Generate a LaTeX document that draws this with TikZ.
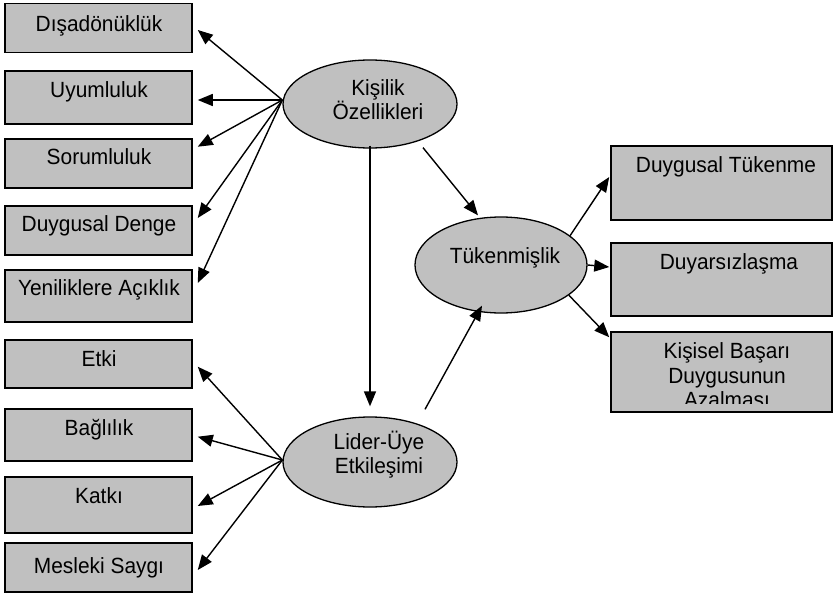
\documentclass[tikz,border=0pt]{standalone}
\usepackage{fontspec}
\setmainfont[FakeStretch=0.95]{Liberation Sans}
\usetikzlibrary{shapes.geometric,arrows.meta,calc}
\definecolor{boxgray}{HTML}{C0C0C0}
\tikzset{
  box/.style={draw=black, line width=1.5pt, fill=boxgray, inner sep=0pt, minimum width=187pt},
  rbox/.style={draw=black, line width=1.5pt, fill=boxgray, inner sep=0pt, minimum width=221pt},
  ell/.style={ellipse, draw=black, line width=1.3pt, fill=boxgray, inner sep=0pt},
  lbl/.style={font=\fontsize{22}{25}\selectfont, anchor=base, inner sep=0pt},
  arr/.style={-{Triangle[length=15pt,width=12pt]}, line width=1.4pt}
}
\begin{document}
\begin{tikzpicture}[x=1pt,y=-1pt]
\useasboundingbox (0,0) rectangle (835,596);
% left boxes
\node[box, minimum height=49pt] (b1) at (98.5,28) {};
\node[box, minimum height=53pt] (b2) at (98.5,97.5) {};
\node[box, minimum height=49pt] (b3) at (98.5,163.5) {};
\node[box, minimum height=49pt] (b4) at (98.5,230.5) {};
\node[box, minimum height=52pt] (b5) at (98.5,296) {};
\node[box, minimum height=48pt] (b6) at (98.5,364) {};
\node[box, minimum height=52pt] (b7) at (98.5,435) {};
\node[box, minimum height=56pt] (b8) at (98.5,505) {};
\node[box, minimum height=49pt] (b9) at (98.5,567.5) {};
\node[lbl] (t1) at (99,32) {Dışadönüklük};
\node[lbl] (t2) at (99,98) {Uyumluluk};
\node[lbl] (t3) at (99,165) {Sorumluluk};
\node[lbl] (t4) at (99,232) {Duygusal Denge};
\node[lbl] (t5) at (99,295) {Yeniliklere Açıklık};
\node[lbl] (t6) at (99,366) {Etki};
\node[lbl] (t7) at (99,435) {Bağlılık};
\node[lbl] (t8) at (99,503) {Katkı};
\node[lbl] (t9) at (99,573) {Mesleki Saygı};
% right boxes
\node[rbox, minimum height=74pt] (dt) at (721.5,183) {};
\node[rbox, minimum height=73pt] (dy) at (721.5,279.5) {};
\node[rbox, minimum height=80pt] (kb) at (721.5,372) {};
\node[lbl] (tdt) at (726,173) {Duygusal Tükenme};
\node[lbl] (tdy) at (729,269) {Duyarsızlaşma};
\begin{scope}
\clip ($(kb.north west)+(1,1)$) rectangle ($(kb.south east)+(-1,-9)$);
\node[lbl] (tkb1) at (727,358) {Kişisel Başarı};
\node[lbl] (tkb2) at (727,383) {Duygusunun};
\node[lbl] (tkb3) at (727,407) {Azalması};
\end{scope}
% ellipses
\node[ell, minimum width=174pt, minimum height=88pt] (kis) at (370,104) {};
\node[ell, minimum width=174pt, minimum height=90pt] (lid) at (370,462) {};
\node[ell, minimum width=172pt, minimum height=96pt] (tuk) at (501,265) {};
\node[lbl] (tk1) at (378,96) {Kişilik};
\node[lbl] (tk2) at (378,120) {Özellikleri};
\node[lbl] (tl1) at (379,449) {Lider-Üye};
\node[lbl] (tl2) at (379,473) {Etkileşimi};
\node[lbl] (tt) at (505,263) {Tükenmişlik};
% arrows from Kisilik
\coordinate (ks) at ($(kis.west)+(0,-4)$);
\draw[arr] (ks) -- ($(b1.east)+(5,2)$);
\draw[arr] (ks) -- ($(b2.east)+(5,2.5)$);
\draw[arr] (ks) -- ($(b3.east)+(5,-16.8)$);
\draw[arr] (ks) -- ($(b4.east)+(5,-12.5)$);
\draw[arr] (ks) -- ($(b5.east)+(5,-13)$);
% arrows from Lider
\coordinate (ls) at ($(lid.west)+(0,-2)$);
\draw[arr] (ls) -- ($(b6.east)+(5,2.7)$);
\draw[arr] (ls) -- ($(b7.east)+(5,1.7)$);
\draw[arr] (ls) -- ($(b8.east)+(5,1)$);
\draw[arr] (ls) -- ($(b9.east)+(5,2.5)$);
% structural arrows
\draw[arr] ($(kis.south)+(0,-3)$) -- ($(lid.north)+(0,-10)$);
\draw[arr] ($(kis.south)+(53,-1)$) -- ($(tuk.north)+(-23,-1)$);
\draw[arr] ($(lid.north)+(55,-7)$) -- ($(tuk.south)+(-19,-8)$);
% arrows from Tukenmislik
\draw[arr] (tuk.23) -- ($(dt.west)+(-1,-6)$);
\draw[arr] (tuk.east) -- ($(tuk.east -| dy.west)+(-1,2)$);
\draw[arr] (tuk.-24) -- ($(kb.north west)+(-1,6)$);
\end{tikzpicture}
\end{document}
